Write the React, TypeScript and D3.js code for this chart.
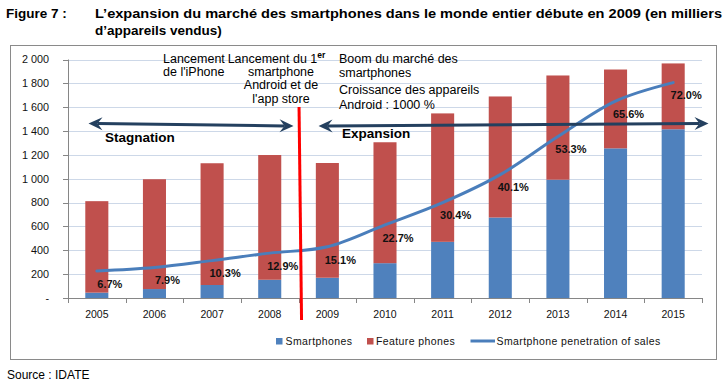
// Stacked bars of phone sales (smartphones / feature phones) with the smartphone share as a line

import React, { useEffect, useRef } from "react"
import * as d3 from "d3"

const years = ["2005", "2006", "2007", "2008", "2009", "2010", "2011", "2012", "2013", "2014", "2015"]
const smartphones = [45, 75, 109, 153, 170, 292, 471, 675, 992, 1255, 1415]
const featurePhones = [767, 921, 1021, 1046, 962, 1014, 1077, 1015, 874, 661, 552]
const penetration = [6.7, 7.9, 10.3, 12.9, 15.1, 22.7, 30.4, 40.1, 53.3, 65.6, 72.0]
const yTicks = [0, 200, 400, 600, 800, 1000, 1200, 1400, 1600, 1800, 2000]

const legendItems = ["Smartphones", "Feature phones", "Smartphone penetration of sales"]

const BLUE = "#4f81bd"
const RED = "#c0504d"
const LINE = "#4a7ebb"
const NAVY = "#24405f"
const FONT = "Arial, 'Liberation Sans', sans-serif"

function App() {
  const ref = useRef<SVGSVGElement>(null)

  useEffect(() => {
    const width = 727
    const height = 387
    const svg = d3.select(ref.current)
    svg.selectAll("*").remove()
    svg.attr("width", width).attr("height", height).style("font-family", FONT)

    svg.append("rect").attr("width", width).attr("height", height).attr("fill", "#fff")

    // title
    svg.append("text").attr("x", 6).attr("y", 18).attr("font-size", 13.5).attr("font-weight", "bold")
      .text("Figure 7 :")
    svg.append("text").attr("x", 95).attr("y", 18).attr("font-size", 13.5).attr("font-weight", "bold")
      .attr("textLength", 627).attr("lengthAdjust", "spacingAndGlyphs")
      .text("L\u2019expansion du marché des smartphones dans le monde entier débute en 2009 (en milliers")
    svg.append("text").attr("x", 95).attr("y", 35).attr("font-size", 13.5).attr("font-weight", "bold")
      .text("d\u2019appareils vendus)")

    // frame
    svg.append("rect").attr("x", 10.5).attr("y", 45.5).attr("width", 706).attr("height", 314)
      .attr("fill", "none").attr("stroke", "#8a8a8a")

    svg.append("text").attr("x", 7).attr("y", 379).attr("font-size", 12).text("Source : IDATE")

    const x = d3.scaleBand().domain(years).range([68, 702]).paddingInner(0.6).paddingOuter(0.3)
    const y = d3.scaleLinear().domain([0, 2000]).range([298, 59.5])
    // hidden secondary axis for the share line
    const y2 = d3.scaleLinear().domain([-2.65, 80]).range([298, 59.5])

    const g = svg.append("g")

    // gridlines
    g.selectAll(".grid").data(yTicks.slice(1)).enter().append("line")
      .attr("x1", 68).attr("x2", 702)
      .attr("y1", d => Math.round(y(d)) + 0.5).attr("y2", d => Math.round(y(d)) + 0.5)
      .attr("stroke", "#cdd8e8")

    // y axis
    g.append("line").attr("x1", 68.5).attr("x2", 68.5).attr("y1", y(2000)).attr("y2", y(0))
      .attr("stroke", "#868686")
    g.selectAll(".ytick").data(yTicks).enter().append("line")
      .attr("x1", 63).attr("x2", 68)
      .attr("y1", d => Math.round(y(d)) + 0.5).attr("y2", d => Math.round(y(d)) + 0.5)
      .attr("stroke", "#868686")
    g.selectAll(".ylab").data(yTicks).enter().append("text")
      .attr("x", 49).attr("y", d => y(d)).attr("dy", "0.35em")
      .attr("text-anchor", "end").attr("font-size", 10.8).attr("fill", "#111")
      .text(d => (d === 0 ? "-" : d3.format(",")(d).replace(",", " ")))

    // stacked bars
    years.forEach((yr, i) => {
      const s = smartphones[i]
      const f = featurePhones[i]
      g.append("rect").attr("x", x(yr)!).attr("width", x.bandwidth())
        .attr("y", y(s)).attr("height", y(0) - y(s)).attr("fill", BLUE)
      g.append("rect").attr("x", x(yr)!).attr("width", x.bandwidth())
        .attr("y", y(s + f)).attr("height", y(s) - y(s + f)).attr("fill", RED)
    })

    // x axis
    const x0 = x.range()[0]
    g.append("line").attr("x1", 68).attr("x2", 702).attr("y1", 298.5).attr("y2", 298.5)
      .attr("stroke", "#868686")
    g.selectAll(".xtick").data(d3.range(years.length + 1)).enter().append("line")
      .attr("x1", d => Math.round(x0 + d * x.step()) + 0.5).attr("x2", d => Math.round(x0 + d * x.step()) + 0.5)
      .attr("y1", 298).attr("y2", 303).attr("stroke", "#868686")
    g.selectAll(".xlab").data(years).enter().append("text")
      .attr("x", d => x(d)! + x.bandwidth() / 2).attr("y", 318)
      .attr("text-anchor", "middle").attr("font-size", 10.5).attr("fill", "#111")
      .text(d => d)

    // penetration line
    const cx = (i: number) => x(years[i])! + x.bandwidth() / 2
    const line = d3.line<number>().x((d, i) => cx(i)).y(d => y2(d)).curve(d3.curveCatmullRom.alpha(0.5))
    g.append("path").attr("d", line(penetration)).attr("fill", "none")
      .attr("stroke", LINE).attr("stroke-width", 3).attr("stroke-linecap", "round")

    g.selectAll(".plab").data(penetration).enter().append("text")
      .attr("x", (d, i) => cx(i) + 13).attr("y", d => y2(d) + 13).attr("dy", "0.35em")
      .attr("text-anchor", "middle").attr("font-size", 11).attr("font-weight", "bold").attr("fill", "#111")
      .text(d => d.toFixed(1) + "%")

    // red separator between 2008 and 2009
    const sep = x0 + 4 * x.step()
    g.append("line").attr("x1", sep + 0.5).attr("x2", sep + 3).attr("y1", 107).attr("y2", 320)
      .attr("stroke", "#ff0000").attr("stroke-width", 3)

    // double arrows
    const arrow = (xa: number, ya: number, xb: number, yb: number) => {
      const ang = Math.atan2(yb - ya, xb - xa)
      const head = (tx: number, ty: number, a: number) => {
        const pt = (l: number, w: number) =>
          [tx - Math.cos(a) * l - Math.sin(a) * w, ty - Math.sin(a) * l + Math.cos(a) * w]
        const pts = [[tx, ty], pt(14, -6.5), pt(9, 0), pt(14, 6.5)]
        g.append("path").attr("d", "M" + pts.map(p => p.join(",")).join("L") + "Z").attr("fill", NAVY)
      }
      g.append("line")
        .attr("x1", xa + Math.cos(ang) * 9).attr("y1", ya + Math.sin(ang) * 9)
        .attr("x2", xb - Math.cos(ang) * 9).attr("y2", yb - Math.sin(ang) * 9)
        .attr("stroke", NAVY).attr("stroke-width", 3)
      head(xb, yb, ang)
      head(xa, ya, ang + Math.PI)
    }
    arrow(88.5, 123.5, sep - 5, 126)
    arrow(sep + 20, 126, 708.5, 123.5)

    svg.append("text").attr("x", 105).attr("y", 141.5).attr("font-size", 13.5).attr("font-weight", "bold")
      .text("Stagnation")
    svg.append("text").attr("x", 342).attr("y", 138).attr("font-size", 13.5).attr("font-weight", "bold")
      .text("Expansion")

    // annotations
    const note = (lines: string[], tx: number, ys: number[], anchor: string) => {
      lines.forEach((t, i) => {
        svg.append("text").attr("x", tx).attr("y", ys[i]).attr("font-size", 12.5)
          .attr("text-anchor", anchor).text(t)
      })
    }
    note(["Lancement", "de l'iPhone"], 163, [62.5, 76], "start")
    const first = svg.append("text").attr("x", 276.5).attr("y", 62.5).attr("font-size", 12.5)
      .attr("text-anchor", "middle")
    first.append("tspan").text("Lancement du 1")
    first.append("tspan").attr("dy", -5).attr("font-size", 8.5).attr("font-weight", "bold").text("er")
    note(["smartphone", "Android et de", "l'app store"], 281, [75.5, 89, 102.5], "middle")
    note(["Boom du marché des", "smartphones", "Croissance des appareils", "Android : 1000 %"],
      339, [63, 76.5, 93.5, 109], "start")

    // legend
    const lg = svg.append("g").attr("font-size", 10.5).attr("letter-spacing", 0.4).attr("fill", "#111")
    lg.append("rect").attr("x", 276).attr("y", 338).attr("width", 6.5).attr("height", 6.5).attr("fill", BLUE)
    lg.append("text").attr("x", 285.5).attr("y", 344.5).text(legendItems[0])
    lg.append("rect").attr("x", 367).attr("y", 338).attr("width", 6.5).attr("height", 6.5).attr("fill", RED)
    lg.append("text").attr("x", 376).attr("y", 344.5).text(legendItems[1])
    lg.append("line").attr("x1", 470.5).attr("x2", 495).attr("y1", 341).attr("y2", 341)
      .attr("stroke", LINE).attr("stroke-width", 3)
    lg.append("text").attr("x", 496.5).attr("y", 344.5).text(legendItems[2])
  }, [])

  return (
    <svg ref={ref} style={{ position: "absolute", left: 0, top: 0, display: "block" }}></svg>
  )
}

export default App
